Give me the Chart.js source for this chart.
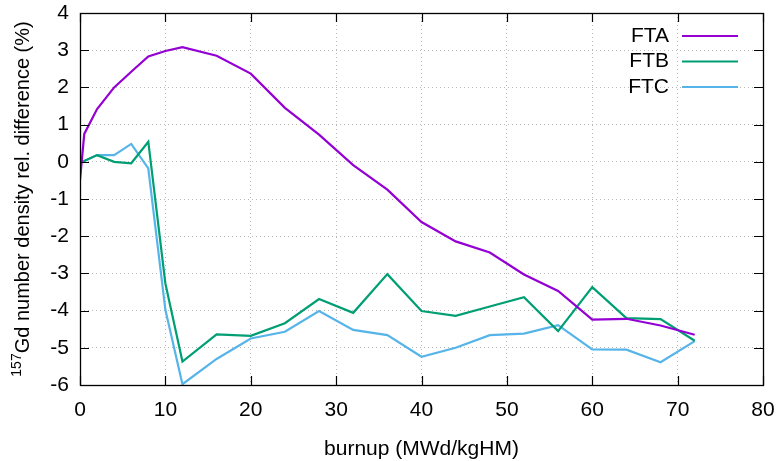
<html>
<head>
  <script src="https://cdn.jsdelivr.net/npm/chart.js@4.4.0/dist/chart.umd.min.js"></script>
  <style>
    body{margin:0;background:#fff;}
  </style>
</head>
<body>
<div>
  <canvas id="gd" width="777" height="461"></canvas>
</div>
<script>
  // burnup steps (MWd/kgHM)
  var burnup = [0, 0.5, 2, 4, 6, 8, 10, 12, 16, 20, 24, 28, 32, 36, 40, 44, 48, 52, 56, 60, 64, 68, 72];
  // 157Gd number density rel. difference (%)
  var fta = [-0.49, 0.75, 1.42, 2.0, 2.42, 2.83, 2.98, 3.08, 2.85, 2.37, 1.45, 0.73, -0.09, -0.75, -1.62, -2.14, -2.44, -3.03, -3.47, -4.24, -4.22, -4.4, -4.65];
  var ftb = [0, 0.02, 0.18, 0.0, -0.04, 0.54, -3.27, -5.37, -4.64, -4.68, -4.34, -3.69, -4.06, -3.02, -4.01, -4.14, -3.89, -3.64, -4.55, -3.37, -4.2, -4.23, -4.81];
  var ftc = [0, 0.02, 0.18, 0.18, 0.48, -0.18, -3.98, -5.98, -5.3, -4.75, -4.57, -4.01, -4.52, -4.66, -5.24, -5.0, -4.66, -4.62, -4.39, -5.04, -5.05, -5.39, -4.82];
  var names = ['FTA', 'FTB', 'FTC'];
  var cols = ['#9400d3', '#009e73', '#56b4e9'];

  var fnt = '"Liberation Sans", Arial, sans-serif';
  eb=s=>document.getElementById(s);
  pts=(ys)=>burnup.map((x,i)=>({x:x,y:ys[i]}));

  // frame, inward ticks, legend and axis titles, gnuplot style
  var deco = {
    id:'deco',
    afterDraw(c){
      var ctx=c.ctx, a=c.chartArea, xs=c.scales.x, ys=c.scales.y;
      ctx.save();
      ctx.strokeStyle='#000';
      ctx.lineWidth=1.2;
      ctx.beginPath();
      xs.ticks.forEach(t=>{
        var p=Math.round(xs.getPixelForValue(t.value))+0.5;
        ctx.moveTo(p,a.bottom); ctx.lineTo(p,a.bottom-9);
        ctx.moveTo(p,a.top); ctx.lineTo(p,a.top+9);
      });
      ys.ticks.forEach(t=>{
        var p=Math.round(ys.getPixelForValue(t.value))+0.5;
        ctx.moveTo(a.left,p); ctx.lineTo(a.left+9,p);
        ctx.moveTo(a.right,p); ctx.lineTo(a.right-9,p);
      });
      ctx.stroke();
      ctx.lineWidth=1.3;
      ctx.strokeRect(Math.round(a.left)+0.5,Math.round(a.top)+0.5,Math.round(a.right-a.left),Math.round(a.bottom-a.top));

      // legend
      ctx.font='21px '+fnt;
      ctx.textBaseline='middle';
      ctx.textAlign='right';
      c.data.datasets.forEach((d,i)=>{
        var y=36+i*25.5;
        ctx.fillStyle='#000';
        ctx.fillText(d.label,669,y);
        ctx.strokeStyle=d.borderColor;
        ctx.lineWidth=2.2;
        ctx.beginPath(); ctx.moveTo(682,y); ctx.lineTo(738,y); ctx.stroke();
      });

      // x title
      ctx.fillStyle='#000';
      ctx.textAlign='center';
      ctx.fillText('burnup (MWd/kgHM)',(a.left+a.right)/2,449);

      // y title with superscript mass number
      ctx.translate(23,(a.top+a.bottom)/2);
      ctx.rotate(-Math.PI/2);
      var sup='157', main='Gd number density rel. difference (%)';
      ctx.font='14px '+fnt;
      var w1=ctx.measureText(sup).width;
      ctx.font='20px '+fnt;
      var w2=ctx.measureText(main).width;
      var x0=-(w1+w2)/2;
      ctx.textAlign='left';
      ctx.font='14px '+fnt;
      ctx.fillText(sup,x0,-6);
      ctx.font='20px '+fnt;
      ctx.fillText(main,x0+w1,0);
      ctx.restore();
    }
  };

  function init(){
    new Chart(eb('gd'), {
      type:'line',
      data:{
        datasets:[fta,ftb,ftc].map((s,i)=>({
          label:names[i],
          data:pts(s),
          borderColor:cols[i],
          backgroundColor:cols[i],
          borderWidth:2.2,
          pointRadius:0,
          tension:0,
          fill:false
        }))
      },
      options:{
        responsive:false,
        animation:false,
        layout:{padding:{left:0,right:14,top:13,bottom:0}},
        plugins:{legend:{display:false},tooltip:{enabled:false}},
        scales:{
          x:{
            type:'linear',
            min:0,max:80,
            ticks:{stepSize:10,color:'#000',font:{family:fnt,size:21},padding:13,maxRotation:0},
            grid:{color:'#b8b8b8',lineWidth:1,drawTicks:false},
            border:{display:false,dash:[1,3]},
            afterFit:s=>{s.height=76;s.paddingLeft=0;s.paddingRight=0;}
          },
          y:{
            min:-6,max:4,
            ticks:{stepSize:1,color:'#000',font:{family:fnt,size:21},padding:11},
            grid:{color:'#b8b8b8',lineWidth:1,drawTicks:false},
            border:{display:false,dash:[1,3]},
            afterFit:s=>{s.width=80;s.paddingTop=0;s.paddingBottom=0;}
          }
        }
      },
      plugins:[deco]
    });
  }
  window.addEventListener('load',init);
</script>
</body>
</html>
